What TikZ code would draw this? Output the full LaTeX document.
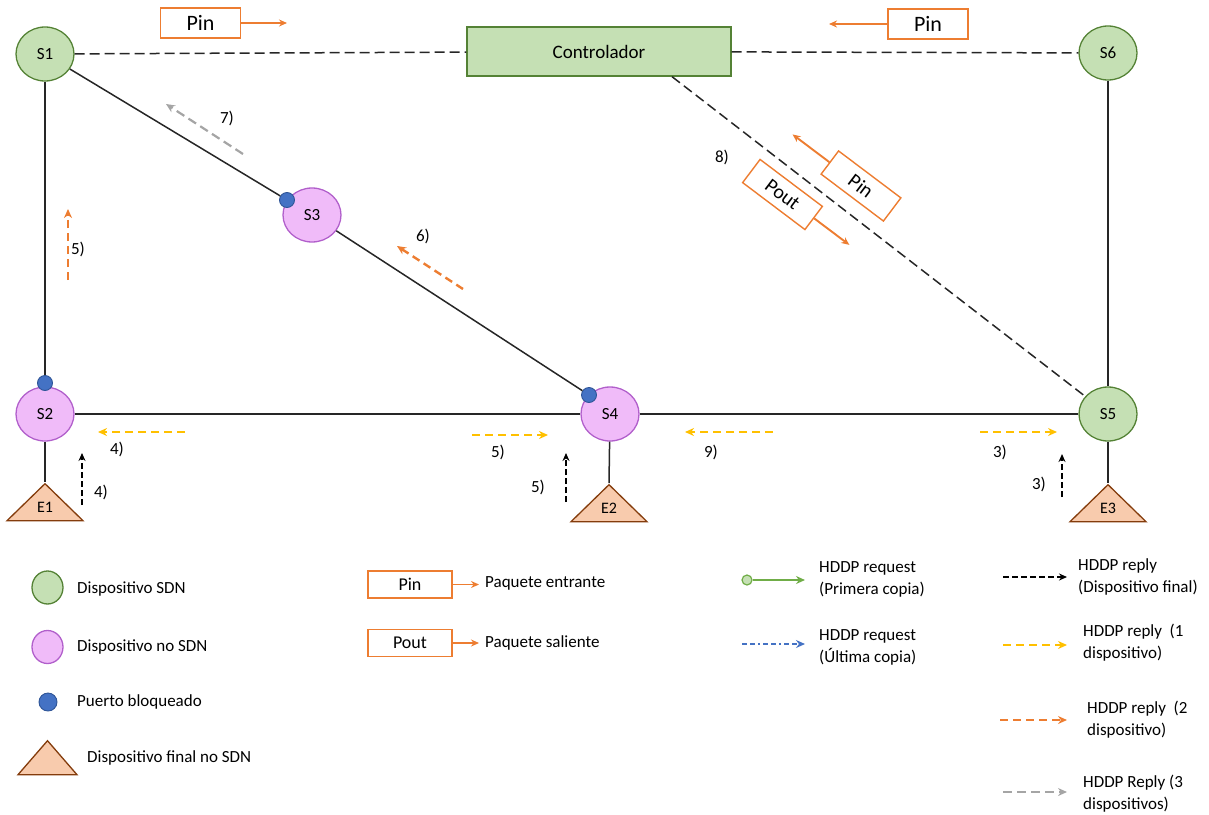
\documentclass[tikz,border=0pt]{standalone}
\usepackage{fontspec}
\setmainfont{Carlito}
\usetikzlibrary{positioning}
\usetikzlibrary{calc}
\usetikzlibrary{shapes.geometric}
\usetikzlibrary{arrows.meta}
\definecolor{sdnfill}{HTML}{C5E0B4}
\definecolor{sdnline}{HTML}{548235}
\definecolor{nsdnfill}{HTML}{F0BBF9}
\definecolor{nsdnline}{HTML}{B15FCB}
\definecolor{portfill}{HTML}{4472C4}
\definecolor{portline}{HTML}{2F5597}
\definecolor{endfill}{HTML}{F8CBAD}
\definecolor{endline}{HTML}{843C0C}
\definecolor{pktline}{HTML}{ED7D31}
\definecolor{rply1}{HTML}{FFC000}
\definecolor{rply3}{HTML}{A5A5A5}
\definecolor{rqst1}{HTML}{70AD47}
\definecolor{rqst2}{HTML}{4472C4}
\tikzset{%
  sdn/.style = {ellipse,draw=sdnline,fill=sdnfill,line width=1.3pt,
        minimum width=58pt,minimum height=54pt,inner sep=0pt},
  nsdn/.style = {ellipse,draw=nsdnline,fill=nsdnfill,line width=1.3pt,
        minimum width=58pt,minimum height=54pt,inner sep=0pt},
  blk/.style = {circle,draw=portline,fill=portfill,line width=0.9pt,
        minimum size=15pt,inner sep=0pt},
  enddev/.style = {isosceles triangle,isosceles triangle stretches,
        shape border rotate=90,draw=endline,fill=endfill,line width=1.3pt,
        minimum width=76pt,minimum height=37pt,inner sep=0pt,
        font=\fontsize{16}{18}\selectfont},
  ctrlbox/.style = {rectangle,draw=sdnline,fill=sdnfill,line width=1.3pt,
        minimum width=264pt,minimum height=49pt},
  pbox/.style = {rectangle,draw=pktline,fill=white,line width=1.4pt},
  ltext/.style = {anchor=west,inner sep=0pt,align=left},
  num/.style = {inner sep=0pt},
  link/.style = {line width=1.5pt,black!85},
  cline/.style = {line width=1.5pt,black!85,dash pattern=on 10pt off 5pt},
  pkt/.style = {-{Stealth[length=8pt,width=7pt]},pktline,line width=1.9pt},
  rfin/.style = {-{Stealth[length=8pt,width=7pt]},black,line width=2pt,
        dash pattern=on 6pt off 3pt},
  r1/.style = {-{Stealth[length=9pt,width=8pt]},rply1,line width=2.2pt,
        dash pattern=on 8pt off 5pt},
  r2/.style = {-{Stealth[length=9pt,width=8pt]},pktline,line width=2.4pt,
        dash pattern=on 8pt off 5pt},
  r3/.style = {-{Stealth[length=9pt,width=8pt]},rply3,line width=2.2pt,
        dash pattern=on 9pt off 5pt},
  rq1/.style = {-{Stealth[length=9pt,width=8pt]},rqst1,line width=2.2pt},
  rq2/.style = {-{Stealth[length=9pt,width=8pt]},rqst2,line width=2.2pt,
        dash pattern=on 5pt off 3pt on 5pt off 3pt on 2pt off 3pt}
}
\begin{document}
\begin{tikzpicture}[x=1pt,y=-1pt,font=\fontsize{17}{22}\selectfont]
    \useasboundingbox (0,0) rectangle (1209,814);
    % dispositivos
    \node[sdn] (S1) at (45,54) {S1};
    \node[sdn] (S6) at (1108,53) {S6};
    \node[sdn] (S5) at (1108,414) {S5};
    \node[nsdn] (S2) at (45,414) {S2};
    \node[nsdn] (S3) at (312,215) {S3};
    \node[nsdn] (S4) at (610,414) {S4};
    \node[ctrlbox,font=\fontsize{19}{22}\selectfont] (ctrl) at (599,51.5) {Controlador};
    \node[enddev,anchor=apex] (E1) at (45,482) {E1};
    \node[enddev,anchor=apex] (E2) at (609,483) {E2};
    \node[enddev,anchor=apex] (E3) at (1108,483) {E3};
    \node[blk] (p2) at (45,383) {};
    \node[blk] (p3) at (287,200) {};
    \node[blk] (p4) at (589,395) {};
    % enlaces
    \draw[link] (S1) -- (p2);
    \draw[link] (S1) -- (p3);
    \draw[link] (S3) -- (p4);
    \draw[link] (S2) -- (S4);
    \draw[link] (S4) -- (S5);
    \draw[link] (S6) -- (S5);
    \draw[link] (S2) -- (E1.apex);
    \draw[link] (S4) -- (E2.apex);
    \draw[link] (S5) -- (E3.apex);
    \coordinate (c8) at ([xshift=73pt]ctrl.south);
    \draw[cline] (S1) -- (ctrl);
    \draw[cline] (ctrl) -- (S6);
    \draw[cline] (c8) -- (S5);
    % paquetes
    \node[pbox,minimum width=80pt,minimum height=30pt,font=\fontsize{22}{24}\selectfont] (pinL) at (200.5,23) {Pin};
    \node[pbox,minimum width=80pt,minimum height=30pt,font=\fontsize{22}{24}\selectfont] (pinR) at (928,24) {Pin};
    \coordinate (pinLe) at (287,23);
    \coordinate (pinRe) at (829,24);
    \draw[pkt] (pinL) -- (pinLe);
    \draw[pkt] (pinR) -- (pinRe);
    \node[pbox,rotate=-37,minimum width=78pt,minimum height=29pt,font=\fontsize{20}{22}\selectfont] (pin8) at (861,186) {Pin};
    \node[pbox,rotate=-37,minimum width=78pt,minimum height=29pt,font=\fontsize{20}{22}\selectfont] (pout8) at (782.5,194.5) {Pout};
    \coordinate (pin8e) at ($(pin8.west)!-46pt!(pin8.east)$);
    \coordinate (pout8e) at ($(pout8.east)!-44pt!(pout8.west)$);
    \draw[pkt] (pin8.west) -- (pin8e);
    \draw[pkt] (pout8.east) -- (pout8e);
    % respuestas
    \coordinate (f7a) at (243,154); \coordinate (f7b) at (166,104);
    \coordinate (f6a) at (463,289); \coordinate (f6b) at (397,246);
    \coordinate (f5a) at (68,280);  \coordinate (f5b) at (68,209);
    \coordinate (f4a) at (185,432); \coordinate (f4b) at (98,432);
    \coordinate (e4a) at (82,505);  \coordinate (e4b) at (82,453);
    \coordinate (f5c) at (472,435); \coordinate (f5d) at (548,435);
    \coordinate (e5a) at (566,502); \coordinate (e5b) at (566,453);
    \coordinate (f9a) at (773,432); \coordinate (f9b) at (685,432);
    \coordinate (f3a) at (980,432); \coordinate (f3b) at (1057,432);
    \coordinate (e3a) at (1062,497); \coordinate (e3b) at (1062,454);
    \draw[r3] (f7a) -- (f7b);
    \draw[r2] (f6a) -- (f6b);
    \draw[r2] (f5a) -- (f5b);
    \draw[r1] (f4a) -- (f4b);
    \draw[rfin] (e4a) -- (e4b);
    \draw[r1] (f5c) -- (f5d);
    \draw[rfin] (e5a) -- (e5b);
    \draw[r1] (f9a) -- (f9b);
    \draw[r1] (f3a) -- (f3b);
    \draw[rfin] (e3a) -- (e3b);
    \node[num] (l7) at (227,118) {7)};
    \node[num] (l6) at (423,236) {6)};
    \node[num] (l5a) at (78,249) {5)};
    \node[num] (l4a) at (117,449) {4)};
    \node[num] (l4b) at (101,492) {4)};
    \node[num] (l5b) at (498,452) {5)};
    \node[num] (l5c) at (538,487) {5)};
    \node[num] (l9) at (711,452) {9)};
    \node[num] (l3a) at (1000,452) {3)};
    \node[num] (l3b) at (1039,484) {3)};
    \node[num] (l8) at (722,157) {8)};
    % leyenda
    \node[sdn,minimum width=31pt,minimum height=33pt] (lsdn) at (47.5,587.5) {};
    \node[nsdn,minimum width=31pt,minimum height=33pt] (lnsdn) at (47.5,647) {};
    \node[blk,minimum size=18pt] (lblk) at (48,702) {};
    \node[enddev,minimum width=59pt,minimum height=34pt,anchor=apex] (lfin) at (47.5,739) {};
    \node[ltext] (tsdn) at (77,589) {Dispositivo SDN};
    \node[ltext] (tnsdn) at (77,647) {Dispositivo no SDN};
    \node[ltext] (tblk) at (77,702) {Puerto bloqueado};
    \node[ltext] (tfin) at (87,758) {Dispositivo final no SDN};
    \node[pbox,minimum width=84pt,minimum height=27pt,font=\fontsize{18}{20}\selectfont] (lpin) at (410,584.5) {Pin};
    \node[pbox,minimum width=84pt,minimum height=27pt,font=\fontsize{18}{20}\selectfont] (lpout) at (410,643) {Pout};
    \coordinate (lpine) at (479,584.5);
    \coordinate (lpoute) at (479,643);
    \draw[pkt] (lpin) -- (lpine);
    \draw[pkt] (lpout) -- (lpoute);
    \node[ltext] (tpin) at (485,583) {Paquete entrante};
    \node[ltext] (tpout) at (485,643) {Paquete saliente};
    \node[circle,draw=rqst1,fill=sdnfill,line width=1.2pt,minimum size=10pt,inner sep=0pt] (g0) at (747,580) {};
    \coordinate (g1) at (805,580);
    \coordinate (b0) at (742,644); \coordinate (b1) at (805,644);
    \draw[rq1] (g0) -- (g1);
    \draw[rq2] (b0) -- (b1);
    \node[ltext] (tg) at (819,579) {HDDP request\\(Primera copia)};
    \node[ltext] (tb) at (819,647) {HDDP request\\(Última copia)};
    \coordinate (k0) at (1003,577); \coordinate (k1) at (1067,577);
    \coordinate (y0) at (1003,645); \coordinate (y1) at (1067,645);
    \coordinate (o0) at (1000,720); \coordinate (o1) at (1067,720);
    \coordinate (h0) at (1003,792); \coordinate (h1) at (1067,792);
    \draw[rfin] (k0) -- (k1);
    \draw[r1] (y0) -- (y1);
    \draw[r2] (o0) -- (o1);
    \draw[r3] (h0) -- (h1);
    \node[ltext] (tk) at (1078,577) {HDDP reply\\(Dispositivo final)};
    \node[ltext] (ty) at (1083,643) {HDDP reply\ \ (1\\dispositivo)};
    \node[ltext] (to) at (1087,720) {HDDP reply\ \ (2\\dispositivo)};
    \node[ltext] (th) at (1083,794) {HDDP Reply (3\\dispositivos)};
\end{tikzpicture}
\end{document}
